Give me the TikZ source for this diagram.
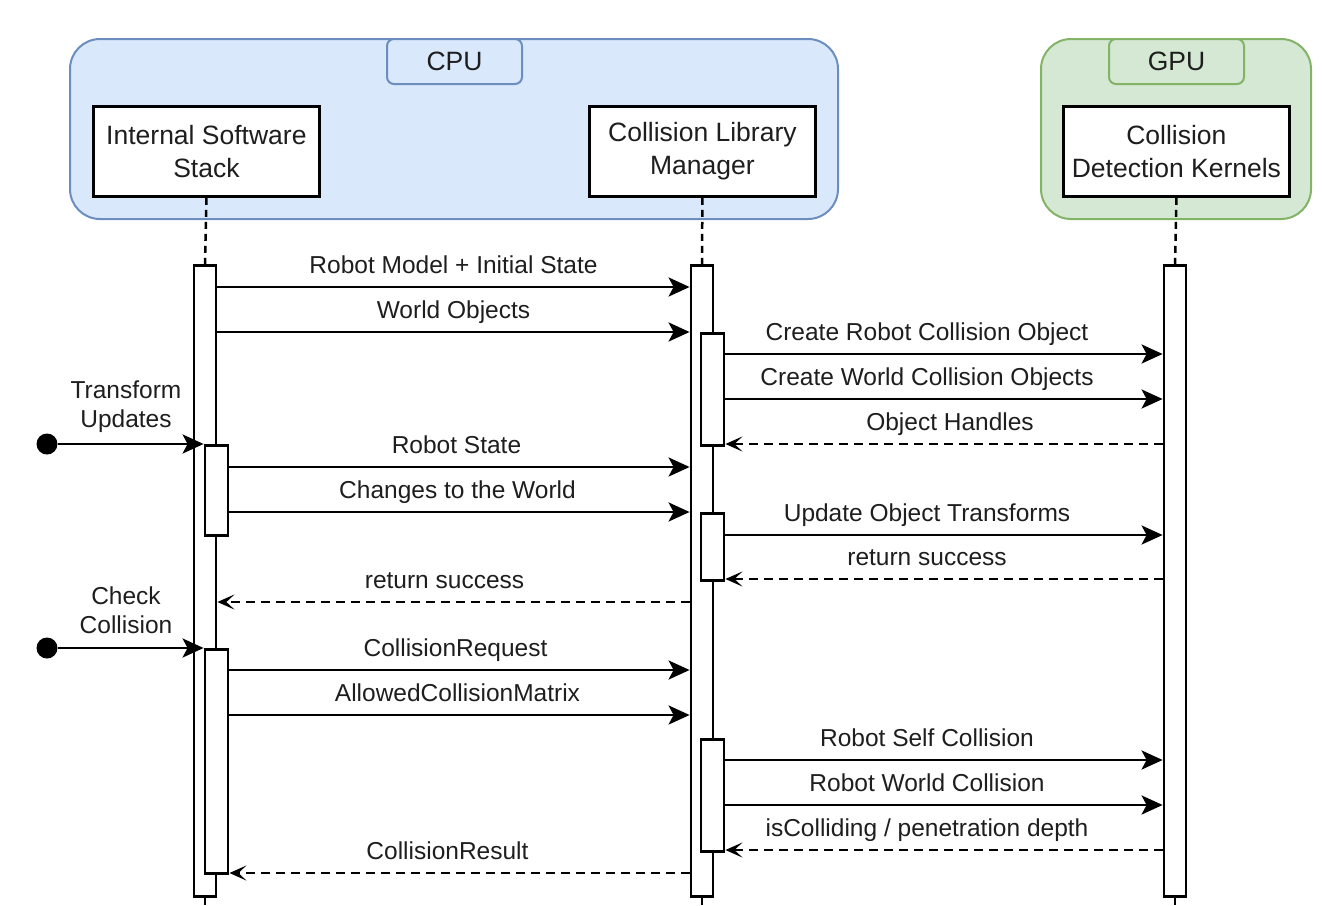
\documentclass[tikz,border=0pt]{standalone}
\usepackage{fontspec}
\setmainfont{Liberation Sans}
\usetikzlibrary{arrows.meta}
\definecolor{cpufill}{HTML}{DAE8FC}
\definecolor{cpuline}{HTML}{6C8EBF}
\definecolor{gpufill}{HTML}{D5E8D4}
\definecolor{gpuline}{HTML}{82B366}
\definecolor{txt}{HTML}{1E1E1E}
\tikzset{
  container/.style={rounded corners=30pt, line width=2pt, anchor=north west, inner sep=0pt},
  tagbox/.style={rounded corners=7pt, line width=2pt, anchor=north west, inner sep=0pt, text=txt,
    font=\fontsize{26.5}{30}\selectfont},
  participant/.style={draw=black, fill=white, line width=2.8pt, minimum width=226pt, minimum height=90pt,
    anchor=north west, align=center, inner sep=0pt, text=txt, font=\fontsize{26.5}{33}\selectfont},
  actbar/.style={draw=black, fill=white, line width=2.8pt, minimum width=22pt, anchor=north, inner sep=0pt},
  subbar/.style={draw=black, fill=white, line width=2.8pt, minimum width=23pt, anchor=north, inner sep=0pt},
  lifeline/.style={line width=2.5pt, dash pattern=on 7pt off 5pt},
  msg/.style={line width=2.8pt, -{Stealth[length=21pt,width=19pt,inset=5pt]}},
  ret/.style={line width=2.5pt, dash pattern=on 9pt off 6pt, -{Stealth[length=17pt,width=15pt,inset=8pt]}},
  lbl/.style={anchor=base, inner sep=0pt, text=txt, font=\fontsize{24.5}{29}\selectfont, yshift=13.5pt},
  foundlbl/.style={align=center, inner sep=0pt, text=txt, font=\fontsize{24.5}{29}\selectfont},
  dot/.style={circle, fill=black, minimum size=21pt, inner sep=0pt}
}
\begin{document}
\begin{tikzpicture}[x=1pt,y=-1pt]
\useasboundingbox (0,0) rectangle (1322,905);

% containers
\node[container, fill=cpufill, draw=cpuline, minimum width=768pt, minimum height=180pt] (cpu) at (69,38) {};
\node[tagbox, fill=cpufill, draw=cpuline, minimum width=135pt, minimum height=45pt] (cputag) at (386,38) {CPU};
\node[container, fill=gpufill, draw=gpuline, minimum width=270pt, minimum height=180pt] (gpu) at (1040,38) {};
\node[tagbox, fill=gpufill, draw=gpuline, minimum width=135pt, minimum height=45pt] (gputag) at (1108,38) {GPU};

% participants
\node[participant] (iss) at (92,105) {Internal Software\\Stack};
\node[participant] (clm) at (588,105) {Collision Library\\Manager};
\node[participant] (cdk) at (1062,105) {Collision\\Detection Kernels};

% main activation bars
\node[actbar, minimum height=631pt] (issbar) at (205,264) {};
\node[actbar, minimum height=631pt] (clmbar) at (702,264) {};
\node[actbar, minimum height=631pt] (cdkbar) at (1175,264) {};

% lifelines
\draw[lifeline] (iss.south) -- (issbar.north);
\draw[lifeline] (clm.south) -- (clmbar.north);
\draw[lifeline] (cdk.south) -- (cdkbar.north);
\coordinate (issend) at (205,906);
\coordinate (clmend) at (702,906);
\coordinate (cdkend) at (1175,906);
\draw[lifeline] (issbar.south) -- (issend);
\draw[lifeline] (clmbar.south) -- (clmend);
\draw[lifeline] (cdkbar.south) -- (cdkend);

% sub activation bars
\node[subbar, minimum height=90pt] (iss1) at (216.5,444) {};
\node[subbar, minimum height=224pt] (iss2) at (216.5,648) {};
\node[subbar, minimum height=112pt] (clm1) at (712.5,332) {};
\node[subbar, minimum height=67pt] (clm2) at (712.5,512) {};
\node[subbar, minimum height=112pt] (clm3) at (712.5,738) {};

% found messages
\node[dot] (d1) at (47,444) {};
\node[dot] (d2) at (47,648) {};
\draw[msg] (d1) -- (iss1.north west);
\draw[msg] (d2) -- (iss2.north west);
\node[foundlbl] (f1) at (126,407) {Transform\\Updates};
\node[foundlbl] (f2) at (126,610) {Check\\Collision};

% messages ISS -> CLM
\draw[msg] (issbar.east |- 0,287) -- (clmbar.west |- 0,287) node[lbl, midway] {Robot Model + Initial State};
\draw[msg] (issbar.east |- 0,332) -- (clmbar.west |- 0,332) node[lbl, midway] {World Objects};
\draw[msg] (iss1.east |- 0,467) -- (clmbar.west |- 0,467) node[lbl, midway, xshift=-3pt] {Robot State};
\draw[msg] (iss1.east |- 0,512) -- (clmbar.west |- 0,512) node[lbl, midway, xshift=-2pt] {Changes to the World};
\draw[ret] (clmbar.west |- 0,602) -- (issbar.east |- 0,602) node[lbl, midway, xshift=-9pt] {return success};
\draw[msg] (iss2.east |- 0,670) -- (clmbar.west |- 0,670) node[lbl, midway, xshift=-4pt] {CollisionRequest};
\draw[msg] (iss2.east |- 0,715) -- (clmbar.west |- 0,715) node[lbl, midway, xshift=-2pt] {AllowedCollisionMatrix};
\draw[ret] (clmbar.west |- 0,873) -- (iss2.east |- 0,873) node[lbl, midway, xshift=-12pt] {CollisionResult};

% messages CLM -> CDK
\draw[msg] (clm1.east |- 0,354) -- (cdkbar.west |- 0,354) node[lbl, midway, xshift=-17pt] {Create Robot Collision Object};
\draw[msg] (clm1.east |- 0,399) -- (cdkbar.west |- 0,399) node[lbl, midway, xshift=-17pt] {Create World Collision Objects};
\draw[ret] (cdkbar.west |- 0,444) -- (clm1.east |- 0,444) node[lbl, midway, xshift=6pt] {Object Handles};
\draw[msg] (clm2.east |- 0,535) -- (cdkbar.west |- 0,535) node[lbl, midway, xshift=-17pt] {Update Object Transforms};
\draw[ret] (cdkbar.west |- 0,579) -- (clm2.east |- 0,579) node[lbl, midway, xshift=-17pt] {return success};
\draw[msg] (clm3.east |- 0,760) -- (cdkbar.west |- 0,760) node[lbl, midway, xshift=-17pt] {Robot Self Collision};
\draw[msg] (clm3.east |- 0,805) -- (cdkbar.west |- 0,805) node[lbl, midway, xshift=-17pt] {Robot World Collision};
\draw[ret] (cdkbar.west |- 0,850) -- (clm3.east |- 0,850) node[lbl, midway, xshift=-17pt] {isColliding / penetration depth};
\end{tikzpicture}
\end{document}
